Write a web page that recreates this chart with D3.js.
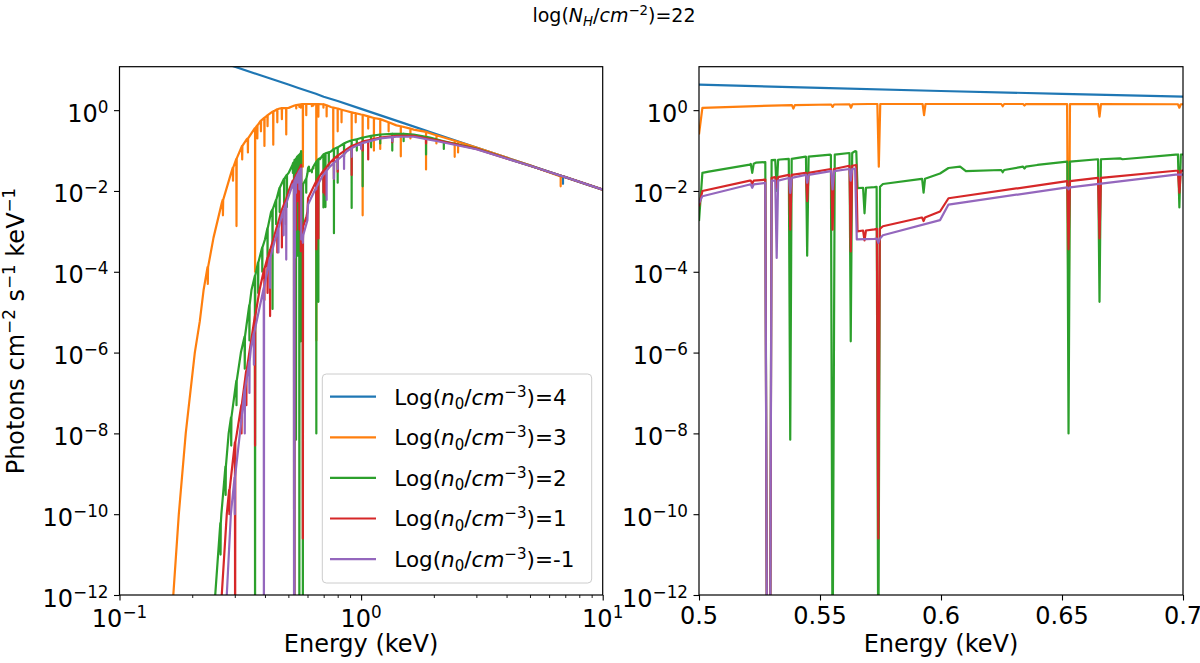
<!DOCTYPE html>
<html>
<head>
<meta charset="utf-8">
<script src="https://cdn.jsdelivr.net/npm/d3@7"></script>
<style>
  body { margin: 0; background: #fff; }
  text { font-family: "DejaVu Sans", sans-serif; fill: #000; }
</style>
</head>
<body>
<svg id="chart" width="1200" height="663"></svg>
<script>
// spectra for log(N_H)=22, five densities

const labels = ["4", "3", "2", "1", "-1"];
const colors = ["#1f77b4", "#ff7f0e", "#2ca02c", "#d62728", "#9467bd"];

// [energy keV, photons] continuum points
const blueCont = [[0.25,17.2],[0.3,11.9],[0.4,6.7],[0.5,4.3],[0.55,3.55],[0.6,2.98],[0.65,2.54],[0.7,2.15],[0.8,1.68],[1,1.075],[1.5,0.478],[2,0.269],[3,0.119],[5,0.043],[7,0.022],[10,0.0108]];
const orangeCont = [[0.16,2e-14],[0.167,1e-12],[0.176,1e-10],[0.188,1e-8],[0.195,7e-8],[0.205,1e-6],[0.215,6e-6],[0.223,3.6e-5],
  [0.245,7e-4],[0.265,5e-3],[0.287,0.023],[0.306,0.065],[0.336,0.19],[0.364,0.36],[0.394,0.62],[0.43,0.92],[0.46,1.1],
  [0.5014,1.14],[0.53,1.3],[0.57,1.42],[0.62,1.42],[0.7,1.4],
  [0.75,1.2],[0.87,0.95],[1.0,0.78],[1.2,0.6],[1.4,0.42],[1.65,0.33],[2.0,0.25],[2.5,0.168],[3,0.118],[5,0.043],[7,0.022],[10,0.0108]];
const greenCont = [[0.24,1e-14],[0.249,1e-12],[0.264,1e-10],[0.283,1e-8],[0.318,1e-6],[0.352,3.6e-5],[0.40,6.3e-4],[0.424,3e-3],[0.46,0.012],[0.48,0.02],
  [0.5014,0.028],[0.504,0.03],[0.521,0.045],[0.5235,0.05],[0.5274,0.052],[0.5281,1e-14],[0.5294,1e-14],[0.5300,0.058],[0.5335,0.06],[0.5442,0.07],
  [0.5545,0.078],[0.5622,0.086],[0.5645,0.097],[0.5650,0.095],[0.5655,0.0118],[0.5725,0.0125],[0.576,0.0149],[0.592,0.02],[0.5996,0.027],
  [0.6031,0.037],[0.6079,0.04],[0.6103,0.031],[0.6247,0.033],[0.6398,0.044],[0.6522,0.053],[0.6648,0.061],[0.674,0.064],[0.675,0.061],[0.697,0.079],[0.7,0.08],
  [0.75,0.095],[0.87,0.16],[1.02,0.21],[1.2,0.25],[1.4,0.26],[1.65,0.25],[1.93,0.21],[2.12,0.18],[3,0.112],[5,0.042],[7,0.022],[10,0.0108]];
const redCont = [[0.255,1e-14],[0.265,1e-12],[0.278,1e-10],[0.306,1e-8],[0.347,1.3e-6],[0.38,3.6e-5],[0.433,6.3e-4],[0.47,3.5e-3],
  [0.5014,0.01],[0.521,0.018],[0.5274,0.019],[0.5281,1e-14],[0.5294,1e-14],[0.5300,0.021],[0.5372,0.025],[0.5442,0.028],[0.5545,0.035],
  [0.5622,0.042],[0.5650,0.044],[0.5655,0.001],[0.5725,0.00112],[0.576,0.00134],[0.592,0.0022],[0.5996,0.0031],[0.6031,0.0066],
  [0.6522,0.0175],[0.6648,0.021],[0.697,0.0316],[0.7,0.032],
  [0.743,0.05],[0.87,0.107],[1.02,0.17],[1.2,0.21],[1.4,0.23],[1.65,0.23],[2.12,0.175],[3,0.11],[5,0.042],[7,0.022],[10,0.0108]];
const purpleCont = [[0.265,1e-14],[0.278,1e-12],[0.289,1e-10],[0.315,1e-8],[0.35,1.3e-6],[0.394,3.6e-5],[0.44,6e-4],[0.47,2.5e-3],
  [0.5014,0.0074],[0.521,0.0145],[0.5274,0.0158],[0.5281,1e-14],[0.5294,1e-14],[0.5300,0.018],[0.5372,0.021],[0.5442,0.025],[0.5545,0.031],
  [0.5622,0.035],[0.5645,0.036],[0.5652,6.3e-4],[0.5725,6.5e-4],[0.576,8e-4],[0.5996,0.0019],[0.6031,0.0046],[0.6522,0.0123],[0.697,0.0253],[0.7,0.0255],
  [0.743,0.04],[0.87,0.095],[1.02,0.155],[1.2,0.2],[1.4,0.22],[1.65,0.22],[2.12,0.165],[3,0.108],[5,0.042],[7,0.022],[10,0.0108]];

// absorption lines: [energy, level around the line, bottom of the line, optional half width]
const blueLines = [[6.85,0.0229,0.015]];
const orangeLines = [[0.232,1.3e-4,5e-5],[0.268,6e-3,2.5e-3],[0.295,0.038,0.018],[0.305,0.062,1.35e-3],[0.322,0.13,0.06],[0.34,0.2,0.09],[0.364,0.36,1e-4],
  [0.372,0.42,0.2],[0.385,0.55,0.3],[0.398,0.65,0.13],[0.41,0.75,0.4],[0.433,0.93,0.14],[0.45,1.05,0.5],[0.47,1.12,0.6],[0.49,1.13,0.25],
  [0.539,1.33,1.1],[0.5552,1.38,1.2],[0.5628,1.4,1.15],[0.5743,1.42,0.04],[0.593,1.42,0.75],[0.6255,1.42,1.25],[0.6345,1.42,1.3],[0.6527,1.41,2e-6],[0.6655,1.41,0.69],[0.6985,1.4,1.15],
  [0.72,1.32,0.7],[0.767,1.15,0.1],[0.8,1.1,0.3],[0.83,1.02,0.5],[0.914,0.88,0.2],[0.95,0.84,0.5],[1.015,0.77,2.5e-3],[1.07,0.7,0.35],[1.13,0.64,0.1],
  [1.2,0.6,0.11],[1.3,0.5,0.3],[1.46,0.4,0.072],[1.6,0.35,0.2],[1.857,0.29,0.034],[2.05,0.24,0.15],[2.44,0.175,0.07],[2.52,0.165,0.09],[6.7,0.023,0.013]];
const greenLines = [[0.262,6e-11,1e-11],[0.275,1.5e-9,3e-10],[0.29,2.5e-8,5e-9],[0.305,2e-7,5e-8],[0.33,2.5e-6,4e-7],[0.345,1.5e-5,2e-6],[0.364,8e-5,1e-14],
  [0.375,1.7e-4,3e-5],[0.39,4e-4,1e-4],[0.41,1.2e-3,2e-4],[0.43,3.5e-3,1.2e-5],[0.445,6e-3,1.5e-3],[0.46,0.012,3e-3],[0.48,0.02,4e-3],[0.493,0.025,4e-3],
  [0.522,0.047,0.028],[0.5321,0.059,0.01],[0.5377,0.062,7e-9],[0.5447,0.071,2.5e-4],[0.5552,0.079,1e-14,0.0009],[0.5627,0.087,1.9e-6],[0.5684,0.012,0.0028],
  [0.5741,0.0127,1e-14,0.0007],[0.5928,0.02,0.0091],[0.6255,0.033,0.029],[0.6345,0.04,0.036],[0.6527,0.053,1e-8],[0.6655,0.061,1.8e-5],[0.6985,0.08,0.0039],
  [0.712,0.085,4e-3],[0.735,0.09,0.04],[0.772,0.11,9e-4],[0.8,0.12,0.016],[0.85,0.15,0.07],[0.914,0.18,3.8e-3],[0.96,0.19,0.1],[1.015,0.21,0.013],
  [1.1,0.23,0.12],[1.2,0.25,0.15],[1.346,0.26,0.1],[1.5,0.26,0.17],[1.857,0.22,0.08],[2.2,0.17,0.11]];
const redLines = [[0.285,4e-10,1e-10],[0.301,6e-9,1e-14],[0.32,5e-8,1e-8],[0.335,3.5e-7,5e-8],[0.364,8e-6,5e-9],[0.398,1.2e-4,2e-5],[0.41,2.2e-4,3e-5],
  [0.42,3.5e-4,8e-6],[0.45,1.4e-3,3e-4],[0.47,3.5e-3,4e-4],[0.488,6e-3,1.5e-3],
  [0.522,0.018,0.015],[0.5321,0.022,0.012],[0.5377,0.025,0.0011],[0.5447,0.028,0.0056],[0.5552,0.035,0.0011],[0.5627,0.042,3.2e-4],[0.5684,0.00105,6e-4],
  [0.5741,0.00115,2.5e-11],[0.5928,0.0022,0.0018],[0.6527,0.0175,3.6e-4],[0.6655,0.021,6.7e-4],[0.6985,0.0316,0.0091],
  [0.712,0.036,8e-3],[0.772,0.063,0.02],[0.8,0.075,0.03],[0.914,0.13,0.025],[1.015,0.165,0.1],[1.07,0.18,0.06],[1.346,0.225,0.16],[1.857,0.2,0.15]];
const purpleLines = [[0.30,8e-10,1e-10],[0.33,1.2e-7,1e-8],[0.345,6e-7,1e-7],[0.36,3e-6,5e-7],[0.396,4e-5,1e-14],[0.42,2.2e-4,4e-5],[0.455,1.2e-3,3e-4],
  [0.478,3.3e-3,8e-4],[0.49,5e-3,2e-4],
  [0.522,0.0145,0.012],[0.5321,0.018,2.2e-4],[0.5377,0.021,0.009],[0.5447,0.025,0.016],[0.5552,0.031,0.011],[0.5627,0.035,0.018],[0.5741,6.6e-4,5.2e-4],[0.6527,0.0123,0.011],
  [0.72,0.032,0.006],[0.772,0.05,0.02],[0.8,0.06,0.035],[0.85,0.08,0.035],[0.914,0.115,0.07],[1.0,0.15,0.11],[1.346,0.215,0.17]];

// first sample of the zoomed run (right panel only)
const zoomStart = [null, [0.5,0.25], [0.5,0.0018], [0.5,0.0042], [0.5,0.005]];

const leftXTicks = [0.1, 1, 10];
const leftXMinor = [0.2,0.3,0.4,0.5,0.6,0.7,0.8,0.9,2,3,4,5,6,7,8,9];
const rightXTicks = [0.5, 0.55, 0.6, 0.65, 0.7];
const yTicks = [1, 1e-2, 1e-4, 1e-6, 1e-8, 1e-10, 1e-12];

const conts = [blueCont, orangeCont, greenCont, redCont, purpleCont];
const linesets = [blueLines, orangeLines, greenLines, redLines, purpleLines];

const plotTop = 66.7, plotBottom = 595;
const halfWidth = 0.0006;
const tickFont = 24;

const svg = d3.select("#chart");
const y = d3.scaleLog().domain([1e-12, 11.9]).range([plotBottom, plotTop]);

const panels = [
  { id: "pl", x: d3.scaleLog().domain([0.1, 10]).range([119.5, 602.7]) },
  { id: "pr", x: d3.scaleLinear().domain([0.5, 0.7]).range([699, 1183]) }
];

function buildPoints(cont, lines) {
  let pts = cont.slice();
  lines.forEach(l => {
    let w = l[3] || halfWidth;
    pts.push([l[0] - w, l[1]], [l[0], l[2]], [l[0] + w, l[1]]);
  });
  return pts.sort((a, b) => a[0] - b[0]);
}

let allPoints = conts.map((c, i) => buildPoints(c, linesets[i]));

function powerLabel(g, px, py, exp, anchor) {
  let t = g.append("text").attr("x", px).attr("y", py)
    .attr("text-anchor", anchor).attr("font-size", tickFont);
  t.append("tspan").text("10");
  t.append("tspan").attr("dy", -9).attr("font-size", tickFont * 0.7)
    .text(exp < 0 ? "\u2212" + (-exp) : String(exp));
}

panels.forEach((p, pi) => {
  let [x0, x1] = p.x.range();
  let g = svg.append("g");

  g.append("clipPath").attr("id", "clip-" + p.id)
    .append("rect").attr("x", x0).attr("y", plotTop)
    .attr("width", x1 - x0).attr("height", plotBottom - plotTop);

  let line = d3.line().x(d => p.x(d[0])).y(d => y(d[1]));

  let plotG = g.append("g").attr("clip-path", "url(#clip-" + p.id + ")");
  allPoints.forEach((pts, i) => {
    let data = pts;
    if (pi === 1 && zoomStart[i]) {
      data = [zoomStart[i]].concat(pts.filter(d => d[0] > 0.5));
    }
    plotG.append("path")
      .datum(data)
      .attr("d", line)
      .attr("fill", "none")
      .attr("stroke", colors[i])
      .attr("stroke-width", 2.2)
      .attr("stroke-linejoin", "round");
  });

  // y axis
  let yAxis = g.append("g").attr("transform", "translate(" + x0 + ",0)")
    .call(d3.axisLeft(y).tickValues(yTicks).tickSize(5.5).tickFormat(""));
  yAxis.select(".domain").remove();
  yAxis.selectAll("line").attr("stroke", "#000").attr("stroke-width", 1.1);
  yTicks.forEach(v => powerLabel(g, x0 - 11, y(v) + 11.5, Math.round(Math.log10(v)), "end"));

  // x axis
  let xAxis = g.append("g").attr("transform", "translate(0," + plotBottom + ")");
  if (pi === 0) {
    xAxis.call(d3.axisBottom(p.x).tickValues(leftXTicks).tickSize(5.5).tickFormat(""));
    let minor = g.append("g").attr("transform", "translate(0," + plotBottom + ")")
      .call(d3.axisBottom(p.x).tickValues(leftXMinor).tickSize(3).tickFormat(""));
    minor.select(".domain").remove();
    minor.selectAll("line").attr("stroke", "#000").attr("stroke-width", 0.9);
    leftXTicks.forEach(v => powerLabel(g, p.x(v), 627, Math.round(Math.log10(v)), "middle"));
  } else {
    xAxis.call(d3.axisBottom(p.x).tickValues(rightXTicks).tickSize(5.5).tickFormat(""));
    rightXTicks.forEach(v => {
      g.append("text").attr("x", p.x(v)).attr("y", 624)
        .attr("text-anchor", "middle").attr("font-size", tickFont)
        .text(d3.format("")(+v.toFixed(2)));
    });
  }
  xAxis.select(".domain").remove();
  xAxis.selectAll("line").attr("stroke", "#000").attr("stroke-width", 1.1);

  g.append("text").attr("x", (x0 + x1) / 2).attr("y", 652)
    .attr("text-anchor", "middle").attr("font-size", tickFont)
    .text("Energy (keV)");

  g.append("rect").attr("x", x0).attr("y", plotTop)
    .attr("width", x1 - x0).attr("height", plotBottom - plotTop)
    .attr("fill", "none").attr("stroke", "#000").attr("stroke-width", 1.2);
});

// y label
let yl = svg.append("text")
  .attr("transform", "translate(24,331) rotate(-90)")
  .attr("text-anchor", "middle").attr("font-size", tickFont);
yl.append("tspan").text("Photons cm");
yl.append("tspan").attr("dy", -9).attr("font-size", tickFont * 0.7).text("\u22122");
yl.append("tspan").attr("dy", 9).text(" s");
yl.append("tspan").attr("dy", -9).attr("font-size", tickFont * 0.7).text("\u22121");
yl.append("tspan").attr("dy", 9).text(" keV");
yl.append("tspan").attr("dy", -9).attr("font-size", tickFont * 0.7).text("\u22121");

// title
let tt = svg.append("text").attr("x", 614).attr("y", 22)
  .attr("text-anchor", "middle").attr("font-size", 19);
tt.append("tspan").text("log(");
tt.append("tspan").attr("font-style", "italic").text("N");
tt.append("tspan").attr("dy", 4).attr("font-size", 13.3).attr("font-style", "italic").text("H");
tt.append("tspan").attr("dy", -4).text("/");
tt.append("tspan").attr("font-style", "italic").text("cm");
tt.append("tspan").attr("dy", -7).attr("font-size", 13.3).text("\u22122");
tt.append("tspan").attr("dy", 7).text(")=22");

// legend
const legFont = 21.5;
let leg = svg.append("g");
leg.append("rect").attr("x", 322.3).attr("y", 374).attr("width", 269.4).attr("height", 209)
  .attr("rx", 4).attr("fill", "#fff").attr("fill-opacity", 0.8)
  .attr("stroke", "#cccccc").attr("stroke-width", 1);
labels.forEach((lab, i) => {
  let cy = 396.7 + i * 40.6;
  leg.append("line").attr("x1", 330).attr("x2", 376).attr("y1", cy).attr("y2", cy)
    .attr("stroke", colors[i]).attr("stroke-width", 2.2);
  let t = leg.append("text").attr("x", 394.3).attr("y", cy + 7.8).attr("font-size", legFont);
  t.append("tspan").text("Log(");
  t.append("tspan").attr("font-style", "italic").text("n");
  t.append("tspan").attr("dy", 4.5).attr("font-size", legFont * 0.7).text("0");
  t.append("tspan").attr("dy", -4.5).text("/");
  t.append("tspan").attr("font-style", "italic").text("cm");
  t.append("tspan").attr("dy", -8).attr("font-size", legFont * 0.7).text("\u22123");
  t.append("tspan").attr("dy", 8).text(")=" + lab);
});
</script>
</body>
</html>
